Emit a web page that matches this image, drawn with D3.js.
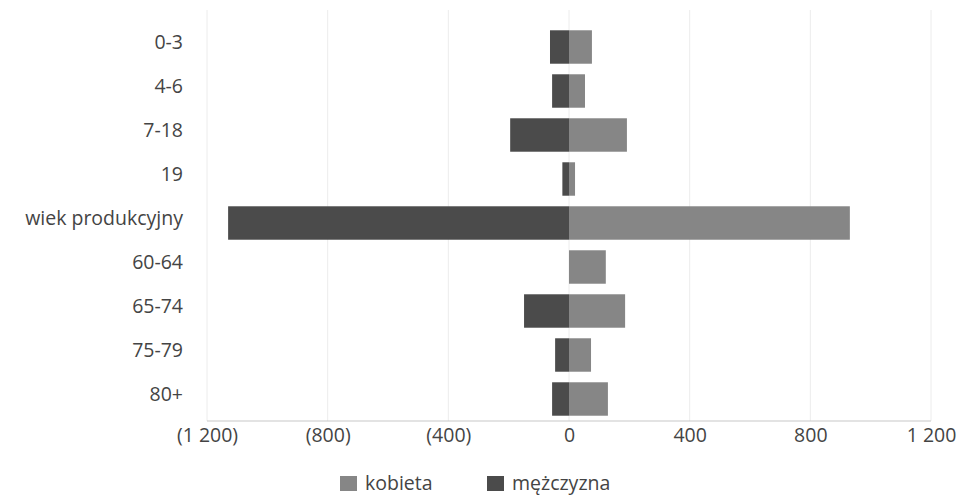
<!DOCTYPE html>
<html><head><meta charset="utf-8">
<script src="https://cdn.jsdelivr.net/npm/d3@7"></script>
<style>
html,body{margin:0;padding:0;background:#fff;}
svg text{font-family:"Open Sans",sans-serif;fill:#444;}
</style></head>
<body><svg id="c" width="962" height="498"></svg>
<script>
const categories = ["0-3","4-6","7-18","19","wiek produkcyjny","60-64","65-74","75-79","80+"];
const male   = [63, 56, 195, 22, 1130, 0, 149, 46, 56];   // mężczyzna (left, shown negative)
const female = [76, 53, 192, 20, 931, 122, 186, 73, 129]; // kobieta (right)
const tickValues = [-1200, -800, -400, 0, 400, 800, 1200];
const seriesNames = ["kobieta", "mężczyzna"];

const colors = {kobieta: "#868686", "mężczyzna": "#4b4b4b"};
const svg = d3.select("#c");
const m = {left: 207, right: 931, top: 25, bottom: 421};
const fs = "19.5px";

const x = d3.scaleLinear().domain([-1200, 1200]).range([m.left, m.right]);
const y = d3.scaleBand().domain(categories).range([m.top, m.bottom]).paddingInner(0.24).paddingOuter(0.12);

const loc = d3.formatLocale({decimal: ",", thousands: " ", grouping: [3], currency: ["", ""]});
const f = loc.format(",d");
const fmt = v => v < 0 ? "(" + f(-v) + ")" : f(v);

// gridlines
svg.append("g").selectAll("line").data(tickValues).join("line")
  .attr("x1", d => x(d)).attr("x2", d => x(d))
  .attr("y1", 10).attr("y2", m.bottom)
  .attr("stroke", "#ececec").attr("stroke-width", 1);

// bars
const rows = categories.map((c, i) => ({c, m: male[i], f: female[i]}));
svg.append("g").selectAll("rect.m").data(rows).join("rect")
  .attr("x", d => x(-d.m)).attr("width", d => x(0) - x(-d.m))
  .attr("y", d => y(d.c)).attr("height", y.bandwidth())
  .attr("fill", colors["mężczyzna"]);
svg.append("g").selectAll("rect.f").data(rows).join("rect")
  .attr("x", x(0)).attr("width", d => x(d.f) - x(0))
  .attr("y", d => y(d.c)).attr("height", y.bandwidth())
  .attr("fill", colors.kobieta);

// axis line
svg.append("line").attr("x1", m.left).attr("x2", m.right)
  .attr("y1", m.bottom).attr("y2", m.bottom)
  .attr("stroke", "#c8c8c8").attr("stroke-width", 1.2);

// x tick labels
const xa = svg.append("g").attr("transform", `translate(0,${m.bottom})`)
  .call(d3.axisBottom(x).tickValues(tickValues).tickFormat(fmt).tickSize(0).tickPadding(7));
xa.select(".domain").remove();
xa.selectAll("text").style("font-size", fs).attr("fill", "#444");

// y labels
svg.append("g").selectAll("text").data(categories).join("text")
  .attr("x", 183).attr("y", d => y(d) + y.bandwidth() / 2 - 5)
  .attr("dy", "0.35em").attr("text-anchor", "end")
  .style("font-size", fs).text(d => d);

// legend
const lg = svg.append("g");
const legendX = [340, 487];
seriesNames.forEach((s, i) => {
  lg.append("rect").attr("x", legendX[i]).attr("y", 476).attr("width", 17).attr("height", 15).attr("fill", colors[s]);
  lg.append("text").attr("x", legendX[i] + 25).attr("y", 483).attr("dy", "0.35em")
    .style("font-size", fs).text(s);
});
</script></body></html>
